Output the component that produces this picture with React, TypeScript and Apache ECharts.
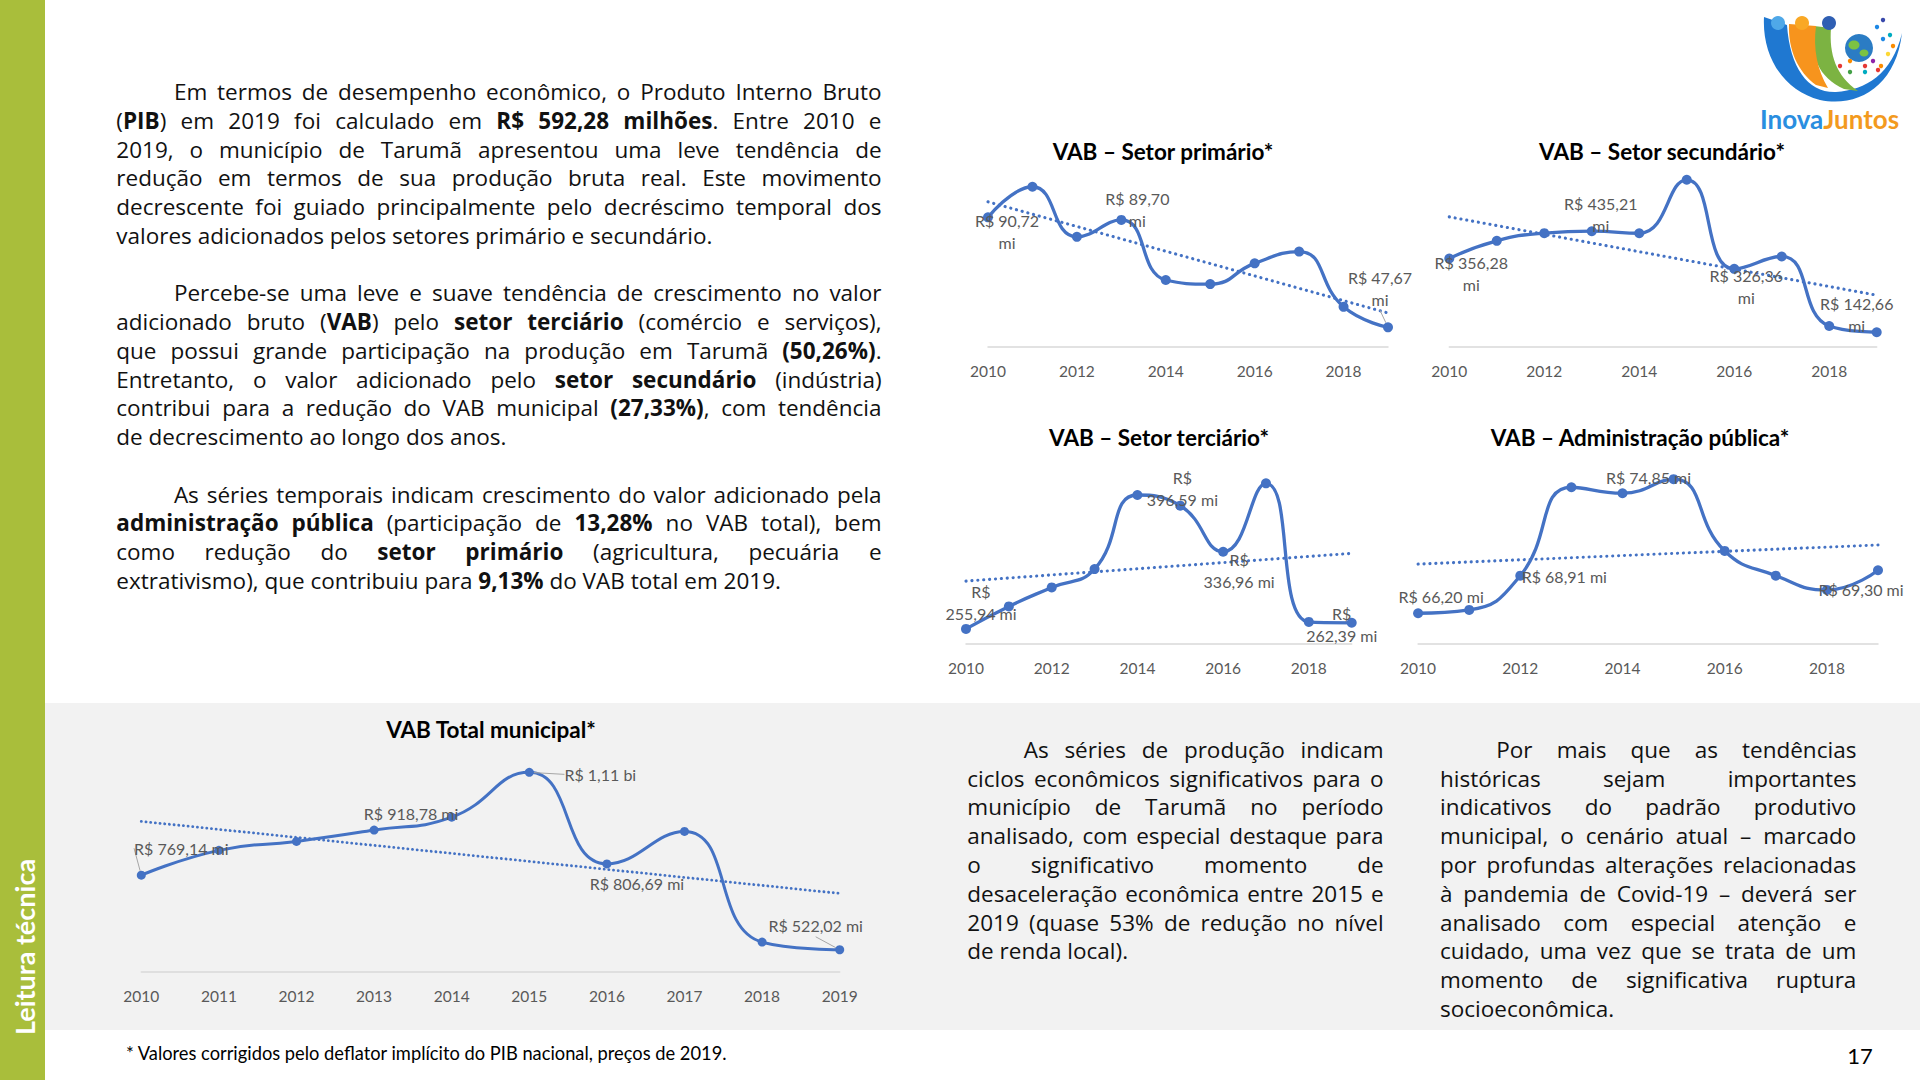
import React, { useEffect, useRef } from "react";
import * as echarts from "echarts";

// ---------------- DATA ----------------
const years = ["2010", "2011", "2012", "2013", "2014", "2015", "2016", "2017", "2018", "2019"];

const primaryValues = [90.72, 102.7, 83.1, 89.7, 66.2, 64.6, 72.7, 77.3, 55.7, 47.67];
const primaryLabels = ["R$ 90,72\nmi", "", "", "R$ 89,70\nmi", "", "", "", "", "", "R$ 47,67\nmi"];

const secondaryValues = [356.28, 407.3, 429.6, 435.21, 429.3, 584.1, 326.36, 362.1, 160.9, 142.66];
const secondaryLabels = ["R$ 356,28\nmi", "", "", "R$ 435,21\nmi", "", "", "R$ 326,36\nmi", "", "", "R$ 142,66\nmi"];

const tertiaryValues = [255.94, 279.6, 299.5, 318.8, 396.59, 385.4, 336.96, 408.8, 263.3, 262.39];
const tertiaryLabels = ["R$\n255,94 mi", "", "", "", "R$\n396,59 mi", "", "R$\n336,96 mi", "", "", "R$\n262,39 mi"];

const adminValues = [66.2, 66.44, 68.91, 75.28, 74.85, 75.86, 70.69, 68.91, 67.88, 69.3];
const adminLabels = ["R$ 66,20 mi", "", "R$ 68,91 mi", "", "R$ 74,85 mi", "", "", "", "", "R$ 69,30 mi"];

const totalValues = [769.14, 851.5, 881.2, 918.78, 961.6, 1110, 806.69, 914.1, 547.4, 522.02];
const totalLabels = ["R$ 769,14 mi", "", "", "R$ 918,78 mi", "", "R$ 1,11 bi", "R$ 806,69 mi", "", "", "R$ 522,02 mi"];

const leftParagraphs = [
  [
    "Em termos de desempenho econômico, o Produto Interno Bruto",
    "(**PIB**) em 2019 foi calculado em **R$ 592,28 milhões**. Entre 2010 e",
    "2019, o município de Tarumã apresentou uma leve tendência de",
    "redução em termos de sua produção bruta real. Este movimento",
    "decrescente foi guiado principalmente pelo decréscimo temporal dos",
    "valores adicionados pelos setores primário e secundário.",
  ],
  [
    "Percebe-se uma leve e suave tendência de crescimento no valor",
    "adicionado bruto (**VAB**) pelo **setor terciário** (comércio e serviços),",
    "que possui grande participação na produção em Tarumã **(50,26%)**.",
    "Entretanto, o valor adicionado pelo **setor secundário** (indústria)",
    "contribui para a redução do VAB municipal **(27,33%)**, com tendência",
    "de decrescimento ao longo dos anos.",
  ],
  [
    "As séries temporais indicam crescimento do valor adicionado pela",
    "**administração pública** (participação de **13,28%** no VAB total), bem",
    "como redução do **setor primário** (agricultura, pecuária e",
    "extrativismo), que contribuiu para **9,13%** do VAB total em 2019.",
  ],
];

const paragraphA = [
  "As séries de produção indicam",
  "ciclos econômicos significativos para o",
  "município de Tarumã no período",
  "analisado, com especial destaque para",
  "o significativo momento de",
  "desaceleração econômica entre 2015 e",
  "2019 (quase 53% de redução no nível",
  "de renda local).",
];

const paragraphB = [
  "Por mais que as tendências",
  "históricas sejam importantes",
  "indicativos do padrão produtivo",
  "municipal, o cenário atual – marcado",
  "por profundas alterações relacionadas",
  "à pandemia de Covid-19 – deverá ser",
  "analisado com especial atenção e",
  "cuidado, uma vez que se trata de um",
  "momento de significativa ruptura",
  "socioeconômica.",
];

const footnote = "* Valores corrigidos pelo deflator implícito do PIB nacional, preços de 2019.";
const sideLabel = "Leitura técnica";
const pageNumber = "17";

// ---------------- STYLE / LAYOUT ----------------
const FONT = "Lato, 'Noto Sans', sans-serif";
const TEXT_FONT = "'Open Sans', 'Noto Sans', sans-serif";
const BLUE = "#4472c4";
const GRAY_TEXT = "#595959";
const LEFT_LINE_H = 28.74;
const RIGHT_LINE_H = 28.82;
const TEXT_SIZE = 22.5;

type Off = [number, number] | null;
type Panel = {
  title: string;
  tx: number;
  ty: number;
  values: number[];
  labels: string[];
  offsets: Off[];
  guides: number[];
  left: number;
  width: number;
  top: number;
  height: number;
  min: number;
  max: number;
  interval: number;
  symbolSize: number;
  lineWidth: number;
  trendWidth: number;
  trendGap: number;
  labelSize: number;
};

const panels: Panel[] = [
  {
    title: "VAB – Setor primário*", tx: 1163, ty: 151,
    values: primaryValues, labels: primaryLabels,
    offsets: [[19, 14], null, null, [16, -10], null, null, null, null, null, [-8, -39]],
    guides: [9],
    left: 988, width: 400, top: 168.1, height: 178.8, min: 40, max: 110, interval: 1,
    symbolSize: 10, lineWidth: 3.3, trendWidth: 3.1, trendGap: 5.8, labelSize: 16,
  },
  {
    title: "VAB – Setor secundário*", tx: 1662, ty: 151,
    values: secondaryValues, labels: secondaryLabels,
    offsets: [[22, 15], null, null, [9, -17], null, null, [12, 18], null, null, [-20, -18]],
    guides: [],
    left: 1449.3, width: 427.4, top: 174.3, height: 172.7, min: 100, max: 600, interval: 1,
    symbolSize: 10, lineWidth: 3.3, trendWidth: 3.1, trendGap: 5.8, labelSize: 16,
  },
  {
    title: "VAB – Setor terciário*", tx: 1159, ty: 437,
    values: tertiaryValues, labels: tertiaryLabels,
    offsets: [[15, -26], null, null, null, [45, -6], null, [16, 19], null, null, [-10, 2]],
    guides: [],
    left: 966, width: 385.7, top: 472.7, height: 171.4, min: 240, max: 420, interval: 1,
    symbolSize: 10, lineWidth: 3.3, trendWidth: 3.1, trendGap: 5.8, labelSize: 16,
  },
  {
    title: "VAB – Administração pública*", tx: 1640, ty: 437,
    values: adminValues, labels: adminLabels,
    offsets: [[23, -17], null, [44, 1], null, [26, -16], null, null, null, null, [-17, 19]],
    guides: [],
    left: 1418.1, width: 459.9, top: 449.5, height: 194.3, min: 64, max: 78, interval: 1,
    symbolSize: 10, lineWidth: 3.3, trendWidth: 3.1, trendGap: 5.8, labelSize: 16,
  },
  {
    title: "VAB Total municipal*", tx: 491, ty: 729,
    values: totalValues, labels: totalLabels,
    offsets: [[40, -27], null, null, [37, -17], null, [71, 2], [30, 20], null, null, [-24, -24]],
    guides: [0, 5, 9],
    left: 141.3, width: 698.4, top: 760.3, height: 211.2, min: 450, max: 1150, interval: 0,
    symbolSize: 9, lineWidth: 3, trendWidth: 2.8, trendGap: 4.6, labelSize: 16,
  },
];

function linearTrend(values: number[]): number[] {
  const n = values.length;
  const mx = (n - 1) / 2;
  const my = values.reduce((a, b) => a + b, 0) / n;
  let sxy = 0;
  let sxx = 0;
  values.forEach((v, i) => {
    sxy += (i - mx) * (v - my);
    sxx += (i - mx) * (i - mx);
  });
  const b = sxy / sxx;
  return values.map((_, i) => my + b * (i - mx));
}

// ---------------- LOGO SHAPES ----------------
let shapesRegistered = false;
function registerLogoShapes() {
  if (shapesRegistered) return;
  shapesRegistered = true;
  echarts.graphic.registerShape(
    "logoBlue",
    echarts.graphic.extendPath("M24,17 C22,55 42,90 80,100 C118,108 156,86 162,33 C152,74 126,90 96,92 C68,93 50,68 47,25 Z", {})
  );
  echarts.graphic.registerShape(
    "logoOrange",
    echarts.graphic.extendPath("M49,24 C48,50 58,72 76,85 L88,88 C77,70 73,48 76,26 Z", {})
  );
  echarts.graphic.registerShape(
    "logoGreen",
    echarts.graphic.extendPath("M74,26 C69,55 79,78 104,89 L118,91 C96,76 89,54 91,28 Z", {})
  );
}

// ---------------- TEXT ----------------
type Seg = { t: string; b: boolean };
function parseWords(line: string): Seg[][] {
  const words: Seg[][] = [];
  let cur: Seg[] = [];
  let buf = "";
  let bold = false;
  const flush = () => {
    if (buf) {
      cur.push({ t: buf, b: bold });
      buf = "";
    }
  };
  let i = 0;
  while (i < line.length) {
    if (line.startsWith("**", i)) {
      flush();
      bold = !bold;
      i += 2;
      continue;
    }
    const ch = line[i];
    if (ch === " ") {
      flush();
      if (cur.length) words.push(cur);
      cur = [];
    } else {
      buf += ch;
    }
    i++;
  }
  flush();
  if (cur.length) words.push(cur);
  return words;
}

function Paragraph(props: { lines: string[]; left: number; top: number; width: number; indent: number; lineH: number }) {
  const { lines, left, top, width, indent, lineH } = props;
  return (
    <div
      style={{
        position: "absolute",
        left,
        top,
        width,
        fontFamily: TEXT_FONT,
        fontSize: TEXT_SIZE,
        lineHeight: `${lineH}px`,
        color: "#111",
        pointerEvents: "none",
      }}
    >
      {lines.map((ln, i) => {
        const words = parseWords(ln);
        const last = i === lines.length - 1;
        return (
          <div
            key={i}
            style={{
              height: lineH,
              display: "flex",
              justifyContent: last ? "flex-start" : "space-between",
              paddingLeft: i === 0 ? indent : 0,
              whiteSpace: "pre",
            }}
          >
            {words.map((w, j) => (
              <span key={j} style={{ flexShrink: 0, whiteSpace: "pre" }}>
                {w.map((s, k) =>
                  s.b ? (
                    <b key={k} style={{ fontWeight: 700 }}>
                      {s.t}
                    </b>
                  ) : (
                    <React.Fragment key={k}>{s.t}</React.Fragment>
                  )
                )}
                {last && j < words.length - 1 ? " " : ""}
              </span>
            ))}
          </div>
        );
      })}
    </div>
  );
}

// ---------------- CHART ----------------
function buildOption() {
  const grid: any[] = [];
  const xAxis: any[] = [];
  const yAxis: any[] = [];
  const series: any[] = [];
  const graphic: any[] = [];

  panels.forEach((p, idx) => {
    grid.push({ left: p.left, top: p.top, width: p.width, height: p.height, containLabel: false });
    xAxis.push({
      type: "category",
      gridIndex: idx,
      data: years,
      boundaryGap: false,
      axisLine: { show: true, lineStyle: { color: "#d9d9d9", width: 1.5 } },
      axisTick: { show: false },
      splitLine: { show: false },
      axisLabel: {
        color: GRAY_TEXT,
        fontSize: 15.5,
        fontFamily: FONT,
        margin: 16,
        interval: p.interval,
      },
    });
    yAxis.push({
      type: "value",
      gridIndex: idx,
      min: p.min,
      max: p.max,
      show: false,
      splitLine: { show: false },
    });
    const data = p.values.map((v, i) => {
      const text = p.labels[i];
      if (!text) return { value: v, label: { show: false } };
      const item: any = {
        value: v,
        label: { show: true, offset: p.offsets[i] || [0, 0] },
      };
      if (p.guides.indexOf(i) >= 0) {
        item.labelLine = { show: true, lineStyle: { color: "#a6a6a6", width: 1 } };
      }
      return item;
    });
    series.push({
      type: "line",
      name: p.title,
      xAxisIndex: idx,
      yAxisIndex: idx,
      data,
      smooth: true,
      symbol: "circle",
      symbolSize: p.symbolSize,
      itemStyle: { color: BLUE },
      lineStyle: { color: BLUE, width: p.lineWidth },
      z: 3,
      label: {
        position: "inside",
        align: "center",
        verticalAlign: "middle",
        color: GRAY_TEXT,
        fontSize: p.labelSize,
        fontFamily: FONT,
        lineHeight: 22,
        formatter: (params: any) => p.labels[params.dataIndex],
      },
      emphasis: { disabled: true },
    });
    series.push({
      type: "line",
      name: p.title + " tendência",
      xAxisIndex: idx,
      yAxisIndex: idx,
      data: linearTrend(p.values),
      symbol: "none",
      smooth: false,
      silent: true,
      z: 2,
      lineStyle: { color: BLUE, width: p.trendWidth, type: [0.1, p.trendGap], cap: "round" },
      emphasis: { disabled: true },
    });
    graphic.push({
      type: "text",
      x: p.tx,
      y: p.ty,
      style: {
        text: p.title,
        fill: "#000",
        font: `bold 22.5px ${FONT}`,
        textAlign: "center",
        textVerticalAlign: "middle",
      },
    });
  });

  // sidebar text
  graphic.push({
    type: "text",
    x: 24,
    y: 947,
    rotation: Math.PI / 2,
    style: {
      text: sideLabel,
      fill: "#ffffff",
      font: `bold 27px ${FONT}`,
      textAlign: "center",
      textVerticalAlign: "middle",
    },
  });
  // footnote
  graphic.push({
    type: "text",
    x: 126,
    y: 1053,
    style: {
      text: footnote,
      fill: "#000",
      font: `18.3px ${FONT}`,
      textAlign: "left",
      textVerticalAlign: "middle",
    },
  });
  // page number
  graphic.push({
    type: "text",
    x: 1860,
    y: 1055,
    style: {
      text: pageNumber,
      fill: "#000",
      font: `22px ${FONT}`,
      textAlign: "center",
      textVerticalAlign: "middle",
    },
  });

  // logo
  const dots: [number, number, string][] = [
    [100, 66, "#e53935"], [110, 61, "#fb8c00"], [125, 66, "#e53935"], [133, 61, "#8e24aa"],
    [141, 66, "#fb8c00"], [110, 72, "#43a047"], [125, 72, "#00acc1"], [138, 70, "#e53935"],
    [148, 54, "#fdd835"], [143, 39, "#1e88e5"], [137, 27, "#1e88e5"], [143, 20, "#3949ab"],
    [150, 35, "#00acc1"], [153, 46, "#fb8c00"],
  ];
  graphic.push({
    type: "group",
    x: 1740,
    y: 0,
    children: [
      { type: "logoBlue", style: { fill: "#1f78d1" } },
      { type: "logoGreen", style: { fill: "#7cb342" } },
      { type: "logoOrange", style: { fill: "#f7941d" } },
      { type: "circle", shape: { cx: 38, cy: 23, r: 7 }, style: { fill: "#4fa8e8" } },
      { type: "circle", shape: { cx: 62, cy: 23, r: 7 }, style: { fill: "#f9a825" } },
      { type: "circle", shape: { cx: 89, cy: 23, r: 7 }, style: { fill: "#2f5fb3" } },
      { type: "circle", shape: { cx: 119, cy: 48, r: 14 }, style: { fill: "#2b7cc4" } },
      { type: "ellipse", shape: { cx: 114, cy: 45, rx: 5.5, ry: 4.5 }, style: { fill: "#7cc242" } },
      { type: "ellipse", shape: { cx: 124, cy: 53, rx: 4.5, ry: 3.5 }, style: { fill: "#7cc242" } },
      ...dots.map(([cx, cy, c]) => ({ type: "circle", shape: { cx, cy, r: 2.2 }, style: { fill: c } })),
      {
        type: "text",
        x: 20,
        y: 119,
        style: {
          text: "{a|Inova}{b|Juntos}",
          textVerticalAlign: "middle",
          rich: {
            a: { fill: "#2a8ee0", fontSize: 26, fontWeight: "bold", fontFamily: FONT },
            b: { fill: "#f39a1e", fontSize: 26, fontWeight: "bold", fontFamily: FONT },
          },
        },
      },
    ],
  });

  return {
    animation: false,
    backgroundColor: "transparent",
    textStyle: { fontFamily: FONT },
    grid,
    xAxis,
    yAxis,
    series,
    graphic,
  };
}

export default function App() {
  const ref = useRef<HTMLDivElement>(null);

  useEffect(() => {
    document.body.style.margin = "0";
    document.body.style.overflow = "hidden";
    registerLogoShapes();
    if (!ref.current) return;
    const chart = echarts.init(ref.current, null, { renderer: "svg" });
    chart.setOption(buildOption() as any);
    return () => {
      chart.dispose();
    };
  }, []);

  const leftTop = 78.2;
  return (
    <div
      style={{
        position: "absolute",
        left: 0,
        top: 0,
        width: 1920,
        height: 1080,
        overflow: "hidden",
        background: "#ffffff",
      }}
    >
      <div style={{ position: "absolute", left: 0, top: 0, width: 45, height: 1080, background: "#a9be3b" }} />
      <div style={{ position: "absolute", left: 45, top: 703, width: 1875, height: 327, background: "#f2f2f2" }} />
      <div ref={ref} style={{ position: "absolute", left: 0, top: 0, width: 1920, height: 1080 }} />
      {leftParagraphs.map((lines, i) => (
        <Paragraph
          key={i}
          lines={lines}
          left={116.3}
          width={765.3}
          indent={57.6}
          lineH={LEFT_LINE_H}
          top={leftTop + i * 7 * LEFT_LINE_H}
        />
      ))}
      <Paragraph lines={paragraphA} left={967.3} width={416.3} indent={56.4} lineH={RIGHT_LINE_H} top={735.8} />
      <Paragraph lines={paragraphB} left={1440} width={416.4} indent={56.3} lineH={RIGHT_LINE_H} top={735.8} />
    </div>
  );
}
